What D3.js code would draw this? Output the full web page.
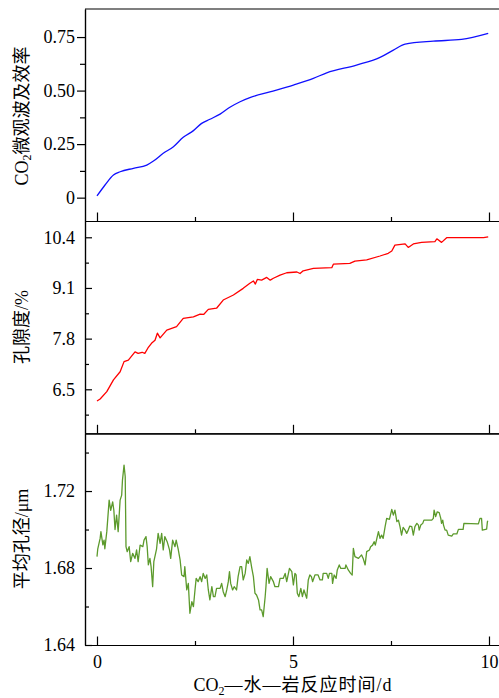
<!DOCTYPE html>
<html><head><meta charset="utf-8">
<script src="https://cdn.jsdelivr.net/npm/d3@7"></script>
<style>
body{margin:0;background:#fff;}
svg text{font-family:"Liberation Serif","Noto Sans CJK SC",serif;fill:#000;}
</style></head>
<body><svg id="c" width="499" height="698"></svg>
<script>
// ---- data ----
const xTicksMajor = [0, 5, 10];
const xTicksMinor = [2.5, 7.5];

const effT = [0,0.2,0.42,0.59,0.93,1.27,1.44,1.69,1.95,2.2,2.46,2.67,2.88,3.14,3.39,3.65,3.9,4.41,5.01,5.52,5.86,6.62,7.22,7.56,7.86,8.58,9.3,9.98];
const effV = [0.008,0.058,0.106,0.121,0.137,0.152,0.171,0.207,0.238,0.282,0.313,0.347,0.366,0.39,0.422,0.448,0.467,0.494,0.526,0.557,0.583,0.619,0.655,0.689,0.717,0.731,0.739,0.767];
const effTicks = [0, 0.25, 0.5, 0.75];
const effMinor = [0.125, 0.375, 0.625];

const porT = [0,0.08,0.25,0.42,0.59,0.69,0.8,0.97,1.05,1.15,1.22,1.3,1.39,1.48,1.54,1.61,1.78,2.03,2.2,2.46,2.63,2.72,2.84,3.05,3.22,3.48,3.73,3.9,3.99,4.04,4.09,4.2,4.33,4.42,4.5,4.67,4.84,5.1,5.18,5.26,5.52,5.99,6.03,6.45,6.58,6.88,7.22,7.43,7.52,7.6,7.86,7.94,8.07,8.28,8.62,8.67,8.79,8.92,9.86,9.98];
const porV = [6.2,6.25,6.44,6.74,6.95,7.21,7.25,7.46,7.42,7.45,7.42,7.56,7.68,7.76,7.94,7.82,8.02,8.11,8.32,8.36,8.43,8.42,8.55,8.58,8.79,8.92,9.09,9.22,9.28,9.2,9.32,9.3,9.37,9.3,9.35,9.43,9.49,9.51,9.47,9.54,9.6,9.62,9.71,9.73,9.79,9.82,9.92,9.99,10.05,10.2,10.23,10.14,10.23,10.27,10.29,10.36,10.27,10.39,10.39,10.41];
const porTicks = [6.5, 7.8, 9.1, 10.4];
const porMinor = [5.85, 7.15, 8.45, 9.75];

const diaT = [0,0.02,0.08,0.1,0.15,0.18,0.2,0.25,0.31,0.35,0.4,0.43,0.46,0.5,0.54,0.59,0.63,0.65,0.69,0.72,0.74,0.77,0.82,0.86,0.91,0.97,1.01,1.05,1.1,1.17,1.2,1.25,1.28,1.31,1.35,1.38,1.42,1.45,1.52,1.56,1.61,1.65,1.69,1.73,1.79,1.85,1.88,1.93,1.99,2.02,2.07,2.12,2.16,2.22,2.24,2.29,2.33,2.37,2.42,2.46,2.5,2.53,2.58,2.63,2.67,2.71,2.76,2.8,2.84,2.88,2.93,2.97,3.01,3.05,3.14,3.18,3.22,3.27,3.31,3.35,3.38,3.41,3.46,3.5,3.56,3.6,3.65,3.69,3.73,3.78,3.82,3.86,3.9,3.95,3.99,4.03,4.07,4.12,4.16,4.2,4.24,4.29,4.31,4.34,4.39,4.43,4.5,4.54,4.63,4.67,4.75,4.8,4.84,4.91,4.97,5.01,5.05,5.08,5.11,5.15,5.2,5.24,5.28,5.35,5.39,5.43,5.47,5.5,5.56,5.64,5.69,5.75,5.77,5.86,5.9,5.93,5.99,6.01,6.05,6.1,6.13,6.18,6.22,6.33,6.35,6.41,6.47,6.51,6.54,6.58,6.67,6.71,6.75,6.79,6.84,6.88,6.95,6.98,7.03,7.07,7.1,7.14,7.18,7.22,7.26,7.3,7.35,7.39,7.46,7.52,7.56,7.6,7.65,7.69,7.73,7.77,7.81,7.86,7.9,7.94,7.98,8.03,8.07,8.11,8.16,8.2,8.22,8.26,8.31,8.34,8.54,8.58,8.6,8.64,8.68,8.73,8.77,8.79,8.82,8.84,8.88,8.92,8.96,9.05,9.09,9.18,9.22,9.34,9.36,9.73,9.77,9.81,9.83,9.94,9.96,9.97];
const diaV = [1.6859,1.69,1.6954,1.6989,1.692,1.6945,1.69,1.6989,1.7153,1.71,1.7144,1.71,1.7,1.7075,1.6989,1.7153,1.7179,1.7257,1.7335,1.7274,1.6911,1.6885,1.6911,1.6833,1.6876,1.685,1.6894,1.6833,1.6919,1.6911,1.6945,1.6963,1.6911,1.6816,1.685,1.6807,1.6703,1.6833,1.69,1.698,1.6928,1.698,1.6894,1.6963,1.6937,1.6894,1.685,1.6945,1.6911,1.6945,1.69,1.6842,1.6764,1.6755,1.6807,1.6686,1.672,1.6565,1.6625,1.6599,1.6686,1.6746,1.6729,1.6755,1.6729,1.6772,1.6746,1.6764,1.6686,1.6634,1.6703,1.6651,1.6651,1.6694,1.6694,1.672,1.6677,1.6651,1.6686,1.6729,1.6781,1.672,1.6686,1.6703,1.6686,1.6755,1.6807,1.6807,1.6738,1.6772,1.6842,1.6824,1.6859,1.6798,1.6755,1.6669,1.666,1.6634,1.6582,1.6582,1.6547,1.6651,1.6703,1.6798,1.672,1.6755,1.6729,1.6703,1.6703,1.6746,1.6746,1.6772,1.6729,1.6798,1.6781,1.6712,1.6772,1.6764,1.6669,1.6651,1.6694,1.6651,1.6686,1.6643,1.6738,1.6764,1.6755,1.6729,1.6764,1.6764,1.6738,1.6738,1.6772,1.6772,1.6746,1.6772,1.6772,1.672,1.6764,1.6746,1.679,1.6816,1.6798,1.6798,1.6816,1.679,1.6772,1.6764,1.6902,1.6859,1.685,1.6859,1.6868,1.685,1.6816,1.6885,1.6894,1.6911,1.6919,1.6937,1.6919,1.6954,1.6989,1.6954,1.6971,1.6954,1.7015,1.7058,1.7053,1.7105,1.7075,1.7101,1.7041,1.7049,1.7015,1.6971,1.7011,1.6997,1.698,1.6997,1.7018,1.7015,1.6971,1.7015,1.7032,1.7023,1.6997,1.7023,1.7032,1.7049,1.7049,1.7058,1.7101,1.7067,1.7092,1.7088,1.7058,1.7032,1.7049,1.7023,1.6997,1.6997,1.6971,1.6966,1.6977,1.6977,1.7001,1.7001,1.7032,1.7029,1.7058,1.7058,1.6997,1.7002,1.7041,1.7046];
const diaTicks = [1.64, 1.68, 1.72];
const diaMinor = [1.66, 1.70, 1.74];

// ---- layout ----
const svg = d3.select("#c");
const X0 = 85, X1 = 510;
const x = d3.scaleLinear().domain([-0.306, 10.536]).range([X0, X1]);

const panels = [
  {t: effT, v: effV, dom: [-0.109, 0.881], top: 9, bot: 221, major: effTicks, minor: effMinor,
   fmt: d => d === 0 ? "0" : d3.format(".2f")(d), color: "#1010ff", outward: true},
  {t: porT, v: porV, dom: [5.371, 10.818], top: 221, bot: 433.3, major: porTicks, minor: porMinor,
   fmt: d3.format(".1f"), color: "#ff0000", outward: false},
  {t: diaT, v: diaV, dom: [1.64, 1.75], top: 433.3, bot: 645, major: diaTicks, minor: diaMinor,
   fmt: d3.format(".2f"), color: "#5c9a2c", outward: false}
];

const fs = 18;

panels.forEach((p, i) => {
  const y = d3.scaleLinear().domain(p.dom).range([p.bot, p.top]);
  svg.append("g").attr("transform", `translate(0,${p.bot})`)
    .call(d3.axisBottom(x).tickValues(xTicksMajor).tickSizeInner(-8.5).tickSizeOuter(0)
      .tickFormat(i === 2 ? d3.format("d") : () => "").tickPadding(10));
  svg.append("g").attr("transform", `translate(0,${p.bot})`)
    .call(d3.axisBottom(x).tickValues(xTicksMinor).tickSizeInner(-4).tickSizeOuter(0).tickFormat(() => ""));
  svg.append("g").attr("transform", `translate(${X0},0)`)
    .call(d3.axisLeft(y).tickValues(p.major).tickSizeInner(p.outward ? 8 : -7).tickSizeOuter(0)
      .tickFormat(p.fmt).tickPadding(p.outward ? 2 : 10));
  svg.append("g").attr("transform", `translate(${X0},0)`)
    .call(d3.axisLeft(y).tickValues(p.minor).tickSizeInner(p.outward ? 5 : -4).tickSizeOuter(0).tickFormat(() => ""));

  const pts = p.t.map((t, k) => [t, p.v[k]]);
  svg.append("path").datum(pts)
    .attr("fill", "none").attr("stroke", p.color).attr("stroke-width", 1.3)
    .attr("stroke-linejoin", "round")
    .attr("d", d3.line().x(d => x(d[0])).y(d => y(d[1]))
      .curve(i === 0 ? d3.curveMonotoneX : d3.curveLinear));
});

svg.append("line").attr("x1", X0).attr("x2", X1).attr("y1", 9).attr("y2", 9)
  .attr("stroke", "#000").attr("stroke-width", 1.2);

svg.selectAll(".domain").attr("stroke", "#000").attr("stroke-width", 1.2);
svg.selectAll(".tick line").attr("stroke", "#000").attr("stroke-width", 1.2);
svg.selectAll(".tick text").style("font-size", fs + "px").style("font-family", "'Liberation Serif', serif").attr("fill", "#000");
svg.selectAll("g").attr("font-family", null).attr("font-size", null);

function ytitle(cy, parts) {
  const t = svg.append("text").attr("transform", `translate(22,${cy}) rotate(-90)`)
    .attr("text-anchor", "middle").attr("dominant-baseline", "central").style("font-size", fs + "px");
  parts.forEach(([s, sub]) => {
    const ts = t.append("tspan").text(s);
    if (sub) ts.style("font-size", "12px").attr("dy", 5);
    else if (t.node().childNodes.length > 1) ts.attr("dy", -5);
  });
}
ytitle(116, [["CO"], ["2", true], ["微观波及效率"]]);
ytitle(327, [["孔隙度/%"]]);
ytitle(539, [["平均孔径/μm"]]);

const xt = svg.append("text").attr("x", x(5)).attr("y", 691).attr("text-anchor", "middle").style("font-size", fs + "px");
xt.append("tspan").text("CO");
xt.append("tspan").text("2").style("font-size", "12px").attr("dy", 4);
xt.append("tspan").text("—水—岩反应时间/d").attr("dy", -4).style("letter-spacing", "1px");
</script></body></html>
